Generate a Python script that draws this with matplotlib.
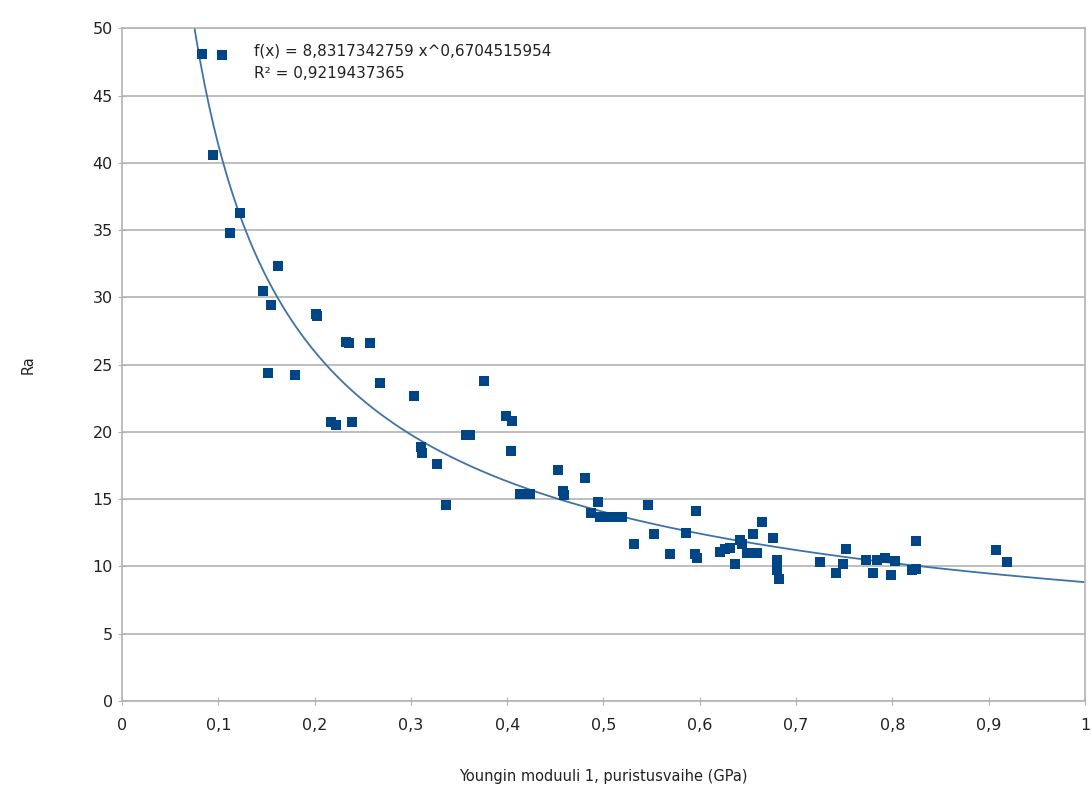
import numpy as np
import matplotlib.pyplot as plt

# measured points (Young's modulus GPa, Ra)
youngs = [0.083, 0.104, 0.0945, 0.1225, 0.112, 0.162, 0.146, 0.155, 0.201, 0.202,
          0.233, 0.236, 0.258, 0.152, 0.180, 0.268, 0.376, 0.303, 0.217, 0.222,
          0.239, 0.399, 0.405, 0.404, 0.357, 0.361, 0.310, 0.312, 0.327, 0.336,
          0.413, 0.424, 0.453, 0.481, 0.458, 0.459, 0.494, 0.487, 0.496, 0.503,
          0.511, 0.519, 0.546, 0.532, 0.552, 0.569, 0.586, 0.596, 0.595, 0.597,
          0.621, 0.626, 0.631, 0.637, 0.642, 0.644, 0.649, 0.655, 0.659, 0.665,
          0.676, 0.680, 0.680, 0.680, 0.682, 0.725, 0.741, 0.749, 0.752, 0.773,
          0.780, 0.784, 0.792, 0.799, 0.803, 0.820, 0.825, 0.825, 0.908, 0.919]
ra = [48.1, 48.0, 40.6, 36.3, 34.8, 32.3, 30.5, 29.4, 28.8, 28.6,
      26.7, 26.6, 26.6, 24.4, 24.2, 23.6, 23.8, 22.7, 20.7, 20.5,
      20.7, 21.2, 20.8, 18.6, 19.8, 19.8, 18.9, 18.4, 17.6, 14.6,
      15.4, 15.4, 17.2, 16.6, 15.6, 15.3, 14.8, 14.0, 13.7, 13.7,
      13.7, 13.7, 14.6, 11.7, 12.4, 10.9, 12.5, 14.1, 10.9, 10.6,
      11.1, 11.3, 11.4, 10.2, 12.0, 11.7, 11.0, 12.4, 11.0, 13.3,
      12.1, 10.5, 10.0, 9.7, 9.1, 10.3, 9.5, 10.2, 11.3, 10.5,
      9.5, 10.5, 10.6, 9.4, 10.4, 9.7, 9.8, 11.9, 11.2, 10.3]

# power trend line shown on the chart
coef_a = 8.8317342759
coef_b = -0.6704515954

fig = plt.figure(figsize=(10.92, 7.85), dpi=100)
ax = fig.add_axes([0.1117, 0.107, 0.8819, 0.857])

ax.scatter(youngs, ra, marker='s', s=62, color='#004586', zorder=3, linewidths=0)

xs = np.linspace(0.06, 1.0, 400)
ax.plot(xs, coef_a * xs ** coef_b, color='#3f73a8', lw=1.3, zorder=2)

ax.set_xlim(0, 1)
ax.set_ylim(0, 50)
ax.set_xticks(np.arange(0, 1.01, 0.1))
ax.set_xticklabels(['0', '0,1', '0,2', '0,3', '0,4', '0,5', '0,6', '0,7', '0,8', '0,9', '1'])
ax.set_yticks(range(0, 51, 5))
ax.yaxis.grid(True, color='#b3b3b3', lw=1.2)
ax.set_axisbelow(True)
for s in ax.spines.values():
    s.set_color('#b3b3b3')
    s.set_linewidth(1.2)
ax.tick_params(direction='inout', length=6, color='#b3b3b3', labelsize=11.5,
               labelcolor='#222222')
ax.tick_params(axis='x', pad=9)

ax.text(0.137, 0.978, 'f(x) = 8,8317342759 x^0,6704515954\nR² = 0,9219437365',
        transform=ax.transAxes, fontsize=11, va='top', ha='left', linespacing=1.65,
        color='#222222')

ax.set_xlabel('Youngin moduuli 1, puristusvaihe (GPa)', fontsize=10.5, labelpad=26,
              color='#222222')
ax.set_ylabel('Ra', fontsize=10.5, labelpad=62, color='#222222')
ax.yaxis.set_label_coords(-0.09, 0.5)

fig.savefig('out.png', dpi=100)
